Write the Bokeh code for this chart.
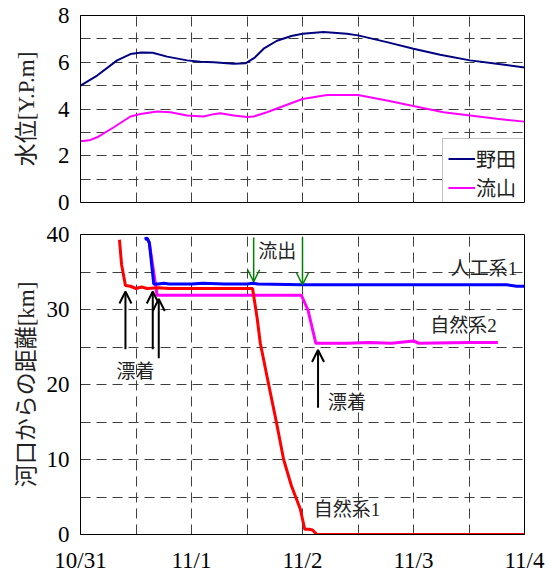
from bokeh.plotting import figure
from bokeh.models import Range1d, FixedTicker, Legend, LegendItem, Arrow, OpenHead, ColumnDataSource
from bokeh.layouts import column
from bokeh.embed import file_html
from bokeh.resources import INLINE
from bokeh.core.properties import value

# ---------------- data (time in days from 10/31 0:00) ----------------
noda_t = [0.0, 0.15, 0.33, 0.45, 0.55, 0.65, 0.78, 0.96, 1.08, 1.2, 1.38, 1.49, 1.57, 1.65, 1.77,
          1.9, 2.0, 2.19, 2.4, 2.5, 2.76, 3.0, 3.24, 3.51, 3.75, 4.0]
noda_v = [5.0, 5.43, 6.08, 6.35, 6.42, 6.41, 6.24, 6.08, 6.02, 6.0, 5.94, 5.96, 6.2, 6.58, 6.92,
          7.12, 7.22, 7.29, 7.22, 7.15, 6.86, 6.58, 6.32, 6.08, 5.94, 5.78]
nagare_t = [0.0, 0.08, 0.15, 0.3, 0.45, 0.54, 0.69, 0.81, 0.96, 1.11, 1.2, 1.26, 1.38, 1.5, 1.56,
            1.68, 1.77, 2.0, 2.22, 2.5, 2.76, 3.03, 3.27, 3.51, 3.75, 4.0]
nagare_v = [2.62, 2.66, 2.79, 3.22, 3.68, 3.79, 3.89, 3.86, 3.72, 3.68, 3.78, 3.82, 3.72, 3.66, 3.68,
            3.86, 4.02, 4.43, 4.6, 4.6, 4.36, 4.1, 3.86, 3.72, 3.58, 3.46]

shizen1_t = [0.351, 0.37, 0.405, 0.45, 0.5, 0.55, 0.6, 0.7, 0.8, 1.0, 1.2, 1.4, 1.55, 1.59, 1.62,
             1.68, 1.77, 1.83, 1.9, 1.98, 2.02, 2.06, 2.09, 2.13, 4.0]
shizen1_v = [39.3, 36.0, 33.2, 33.1, 32.8, 33.0, 32.8, 32.9, 32.8, 32.8, 32.8, 32.8, 32.8, 29.0, 25.5,
             21.1, 14.6, 10.0, 6.5, 3.4, 0.7, 0.7, 0.6, 0.0, 0.0]
jinko1_t = [0.577, 0.60, 0.62, 0.66, 0.7, 0.75, 0.8, 1.0, 1.1, 1.3, 1.5, 1.55, 1.6, 2.0, 3.84, 3.93, 4.0]
jinko1_v = [39.4, 39.5, 38.9, 33.4, 33.4, 33.5, 33.4, 33.4, 33.5, 33.4, 33.4, 33.5, 33.4, 33.3, 33.3, 33.1, 33.1]
shizen2_t = [0.6, 0.62, 0.69, 1.0, 1.99, 2.05, 2.12, 2.4, 2.6, 2.8, 3.0, 3.05, 3.5, 3.76]
shizen2_v = [39.5, 38.9, 31.9, 31.9, 31.9, 29.9, 25.5, 25.5, 25.6, 25.5, 25.8, 25.5, 25.6, 25.6]

x_ticks = [0, 1, 2, 3, 4]
x_tick_labels = ["10/31", "11/1", "11/2", "11/3", "11/4"]
x_minor = [0.5, 1.5, 2.5, 3.5]
top_ticks = [0, 2, 4, 6, 8]
top_minor = [1, 3, 5, 7]
bot_ticks = [0, 10, 20, 30, 40]
bot_minor = [5, 15, 25, 35]

# annotations
note_text = ["漂着", "漂着", "流出", "人工系1", "自然系2", "自然系1"]
note_x = [0.495, 2.40, 1.772, 3.635, 3.45, 2.40]
note_y = [21.8, 17.6, 37.8, 35.5, 27.9, 3.4]

black_arrow_x = [0.405, 0.651, 0.705, 2.14]
black_arrow_y0 = [24.7, 24.7, 23.5, 16.9]
black_arrow_y1 = [32.4, 32.4, 31.4, 24.6]
green_arrow_x = [1.56, 2.0]
green_arrow_y0 = [39.6, 39.6]
green_arrow_y1 = [33.7, 33.3]

FONT = "Liberation Serif, Noto Sans CJK JP"
NUMFONT = "Liberation Serif"
GRID = "#404040"


def style(p, yt, ym, show_x):
    p.outline_line_color = "black"
    p.outline_line_width = 1
    p.xaxis.ticker = FixedTicker(ticks=x_ticks, minor_ticks=x_minor)
    p.yaxis.ticker = FixedTicker(ticks=yt, minor_ticks=ym)
    for ax in (p.xaxis, p.yaxis):
        ax.major_tick_in = 0
        ax.major_tick_out = 0
        ax.minor_tick_in = 0
        ax.minor_tick_out = 0
        ax.axis_line_color = "black"
        ax.major_label_text_font = NUMFONT
        ax.major_label_text_font_size = "23px"
        ax.major_label_text_color = "black"
        ax.axis_label_text_font = FONT
        ax.axis_label_text_font_size = "23px"
        ax.axis_label_text_font_style = "normal"
        ax.axis_label_text_color = "#222222"
    p.yaxis.major_label_standoff = 11
    p.xaxis.major_label_standoff = 13
    p.xaxis.major_label_overrides = {t: l for t, l in zip(x_ticks, x_tick_labels)}
    if not show_x:
        p.xaxis.visible = False
    for g in (p.xgrid, p.ygrid):
        g.grid_line_color = GRID
        g.grid_line_dash = "10 6"
        g.grid_line_width = 1
        g.minor_grid_line_color = GRID
        g.minor_grid_line_dash = "10 6"
        g.minor_grid_line_width = 1
    p.background_fill_color = "white"
    p.border_fill_color = "white"


top = figure(width=550, height=218, x_range=Range1d(0, 4), y_range=Range1d(0, 8),
             output_backend="svg", toolbar_location=None,
             min_border_left=80, min_border_right=26, min_border_top=15, min_border_bottom=16)
style(top, top_ticks, top_minor, False)
top.yaxis.axis_label = "水位[Y.P.m]"
top.yaxis.axis_label_standoff = 16

r_noda = top.line(noda_t, noda_v, line_color="#000080", line_width=2)
r_nag = top.line(nagare_t, nagare_v, line_color="#FF00FF", line_width=2)

legend = Legend(items=[LegendItem(label="野田", renderers=[r_noda]),
                       LegendItem(label="流山", renderers=[r_nag])],
                location=(362, -6), margin=0, padding=5, spacing=0,
                glyph_width=27, glyph_height=27, label_height=27, label_width=49,
                label_standoff=1,
                label_text_font=FONT, label_text_font_size="20px",
                label_text_color="#222222",
                border_line_color="#7f7f7f", border_line_width=1,
                background_fill_color="white", background_fill_alpha=1)
top.add_layout(legend)

bot = figure(width=550, height=357, x_range=Range1d(0, 4), y_range=Range1d(0, 40),
             output_backend="svg", toolbar_location=None,
             min_border_left=80, min_border_right=26, min_border_top=16, min_border_bottom=39)
style(bot, bot_ticks, bot_minor, True)
bot.yaxis.axis_label = "河口からの距離[km]"
bot.yaxis.axis_label_standoff = 5

bot.line(shizen2_t, shizen2_v, line_color="#FF00FF", line_width=3)
bot.line(jinko1_t, jinko1_v, line_color="#0000FF", line_width=3)
bot.line(shizen1_t, shizen1_v, line_color="#FF0000", line_width=3)

for x, y0, y1 in zip(black_arrow_x, black_arrow_y0, black_arrow_y1):
    bot.add_layout(Arrow(end=OpenHead(size=12, line_width=2, line_color="black"),
                         x_start=x, y_start=y0, x_end=x, y_end=y1,
                         line_color="black", line_width=2))
for x, y0, y1 in zip(green_arrow_x, green_arrow_y0, green_arrow_y1):
    bot.add_layout(Arrow(end=OpenHead(size=12, line_width=1.5, line_color="#008000"),
                         x_start=x, y_start=y0, x_end=x, y_end=y1,
                         line_color="#008000", line_width=1.5))

src = ColumnDataSource(dict(x=note_x, y=note_y, t=note_text))
bot.text(x="x", y="y", text="t", source=src, text_align="center", text_baseline="middle",
         text_font=value(FONT), text_font_size="19px", text_color="#222222")

layout = column(top, bot, spacing=0)
open("out.html", "w").write(file_html(layout, INLINE))
